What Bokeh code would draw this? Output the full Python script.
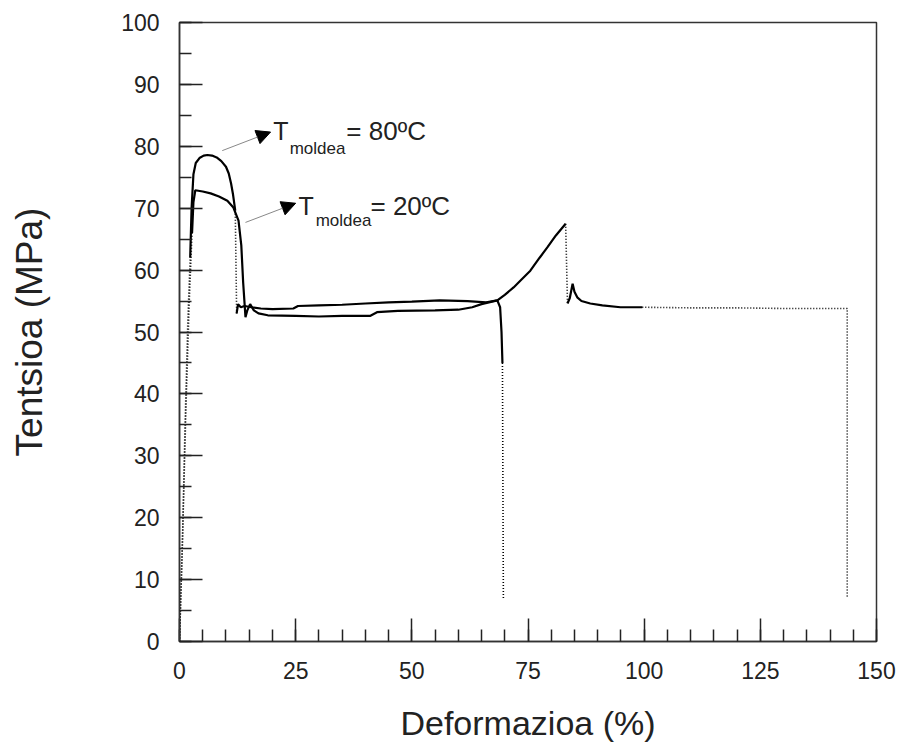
from bokeh.plotting import figure
from bokeh.models import SingleIntervalTicker, Range1d, Arrow, NormalHead, Label
from bokeh.embed import file_html
from bokeh.resources import INLINE

# ---- data ----
# T moldea = 80 ºC
x80_rise = [0, 0.6, 1.2, 1.8, 2.3]
y80_rise = [0, 15, 35, 52, 62]
x80_a = [2.3, 2.6, 3.0, 3.5, 4.3, 5.2, 6.0, 7.0, 8.0, 9.0, 10.0, 10.6, 11.1, 11.5, 12.0]
y80_a = [62, 70, 75.5, 77.3, 78.1, 78.5, 78.6, 78.5, 78.2, 77.6, 76.7, 75.6, 74.0, 72.3, 69.6]
x80_drop1 = [12.0, 12.3]
y80_drop1 = [69.6, 53.0]
x80_b = [12.3, 12.6, 13.2, 14.0, 15.5, 17.5, 20, 24.5, 25.5, 30, 35, 40, 45, 50, 56, 62, 66, 68.4,
         70, 71.9, 73.5, 75.5, 77.5, 79.2, 81, 83.1]
y80_b = [53.0, 54.5, 54.0, 54.2, 54.0, 53.8, 53.7, 53.8, 54.2, 54.3, 54.4, 54.6, 54.8, 54.9, 55.1, 55.0, 54.8, 55.1,
         56.0, 57.2, 58.4, 59.9, 62.0, 63.7, 65.6, 67.5]
x80_drop2 = [83.1, 83.5]
y80_drop2 = [67.5, 54.6]
x80_c = [83.5, 84.0, 84.6, 85.0, 85.6, 86.5, 88.4, 91, 94.9, 99.6]
y80_c = [54.6, 55.5, 57.8, 56.5, 55.6, 55.0, 54.6, 54.3, 54.0, 54.0]
x80_tail = [99.6, 110, 120, 130, 143.7, 143.7]
y80_tail = [54.0, 53.9, 53.9, 53.8, 53.8, 7.0]

# T moldea = 20 ºC
x20_rise = [0, 0.7, 1.4, 2.1, 2.7]
y20_rise = [0, 18, 38, 55, 66]
x20_a = [2.7, 3.0, 3.4, 5.0, 6.7, 8.5, 10.3, 11.6, 12.7, 13.3, 13.7, 14.2, 14.6, 15.2, 16, 17, 19, 25, 30, 35,
         41, 42.5, 47, 55, 60, 63, 65, 68.4, 69.0, 69.3, 69.5]
y20_a = [66, 71, 72.9, 72.7, 72.4, 71.9, 71.2, 70.1, 68.0, 64.0, 58.0, 52.4, 53.5, 54.5, 53.5, 53.0, 52.7, 52.6,
         52.5, 52.6, 52.6, 53.2, 53.4, 53.5, 53.6, 54.0, 54.5, 55.1, 54.0, 50.0, 45.0]
x20_tail = [69.5, 69.7]
y20_tail = [45.0, 7.0]

x_label = "Deformazioa (%)"
y_label = "Tentsioa (MPa)"
sub_text = "moldea"
lab80 = "= 80ºC"
lab20 = "= 20ºC"

FONT = "Liberation Sans"

p = figure(width=901, height=747, output_backend="svg", toolbar_location=None,
           x_range=Range1d(0, 150), y_range=Range1d(0, 100),
           min_border_left=179, min_border_right=25, min_border_top=22, min_border_bottom=106,
           background_fill_color="white", border_fill_color="white")

p.xgrid.visible = False
p.ygrid.visible = False
p.outline_line_color = "#333333"
p.outline_line_width = 1.5

p.xaxis.ticker = SingleIntervalTicker(interval=25, num_minor_ticks=5)
p.yaxis.ticker = SingleIntervalTicker(interval=10, num_minor_ticks=2)

for ax in (p.xaxis[0], p.yaxis[0]):
    ax.major_tick_in = 23
    ax.major_tick_out = 0
    ax.minor_tick_in = 12
    ax.minor_tick_out = 0
    ax.axis_line_color = "#333333"
    ax.axis_line_width = 1.5
    ax.major_tick_line_color = "#222222"
    ax.major_tick_line_width = 1.5
    ax.minor_tick_line_color = "#222222"
    ax.minor_tick_line_width = 1.5
    ax.major_label_text_font = FONT
    ax.major_label_text_font_size = "23px"
    ax.major_label_text_color = "#222222"
    ax.axis_label_text_font = FONT
    ax.axis_label_text_font_style = "normal"
    ax.axis_label_text_color = "#222222"

p.xaxis.axis_label = x_label
p.yaxis.axis_label = y_label
p.xaxis.axis_label_text_font_size = "34px"
p.yaxis.axis_label_text_font_size = "37px"
p.xaxis.major_label_standoff = 20
p.yaxis.major_label_standoff = 20
p.xaxis.axis_label_standoff = 22
p.yaxis.axis_label_standoff = 68

solid = dict(line_color="black", line_width=2.2)
dotted = dict(line_color="black", line_width=1.6, line_dash="1 2")

p.line(x80_rise, y80_rise, **dotted)
p.line(x80_a, y80_a, **solid)
p.line(x80_drop1, y80_drop1, **dotted)
p.line(x80_b, y80_b, **solid)
p.line(x80_drop2, y80_drop2, **dotted)
p.line(x80_c, y80_c, **solid)
p.line(x80_tail, y80_tail, **dotted)

p.line(x20_rise, y20_rise, **dotted)
p.line(x20_a, y20_a, **solid)
p.line(x20_tail, y20_tail, **dotted)

# annotations
for (xs, ys, xe, ye) in [(9.2, 79.3, 19.6, 82.3), (14.2, 67.7, 25.0, 70.8)]:
    p.add_layout(Arrow(end=NormalHead(size=14, fill_color="black", line_color="black"),
                       x_start=xs, y_start=ys, x_end=xe, y_end=ye,
                       line_color="#888888", line_width=1))

for (xt, yt, xs_, ys_, xl, lab) in [(20.2, 82.5, 23.7, 79.6, 35.9, lab80),
                                     (25.6, 70.4, 29.3, 68.0, 41.1, lab20)]:
    p.add_layout(Label(x=xt, y=yt, text="T", text_font=FONT, text_font_size="25px",
                       text_baseline="middle", text_align="left", text_color="#222222"))
    p.add_layout(Label(x=xs_, y=ys_, text=sub_text, text_font=FONT, text_font_size="17px",
                       text_baseline="middle", text_align="left", text_color="#222222"))
    p.add_layout(Label(x=xl, y=yt, text=lab, text_font=FONT, text_font_size="26px",
                       text_baseline="middle", text_align="left", text_color="#222222"))

open("out.html", "w").write(file_html(p, INLINE))
